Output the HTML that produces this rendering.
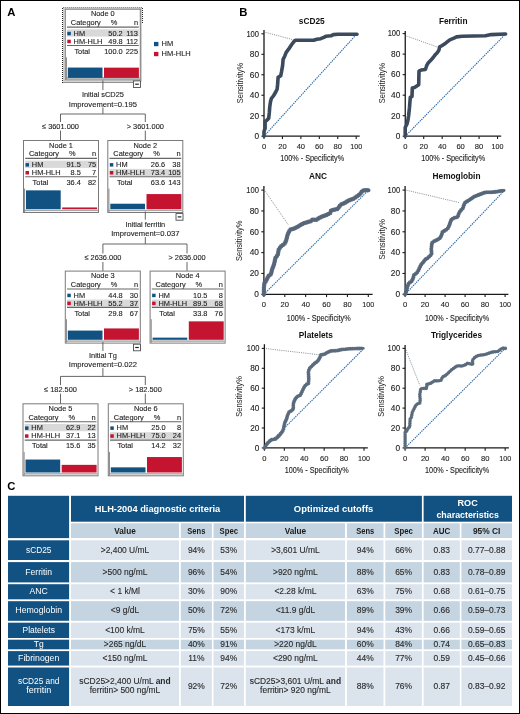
<!DOCTYPE html>
<html><head><meta charset="utf-8"><style>
html,body{margin:0;padding:0;background:#fff;}
#fig{position:absolute;left:0;top:0;width:520px;height:714px;box-sizing:border-box;border:1px solid #000;overflow:hidden;background:#fff;}
svg{position:absolute;left:-1px;top:-1px;filter:blur(0.3px);}
text{font-family:"Liberation Sans",sans-serif;}
</style></head><body><div id="fig">
<svg width="520" height="714" viewBox="0 0 520 714">
<text x="7.30" y="15.72" font-size="11.3" font-weight="bold" fill="#000">A</text>
<text x="239.20" y="15.72" font-size="11.3" font-weight="bold" fill="#000">B</text>
<text x="7.20" y="490.32" font-size="11.3" font-weight="bold" fill="#000">C</text>
<path d="M62.5,83 V7.5 H142.5 V24 M62.5,82.5 H133" fill="none" stroke="#222" stroke-width="1" stroke-dasharray="1,1"/>
<rect x="63.90" y="8.00" width="77.20" height="73.00" fill="none" stroke="#c4c4c4" stroke-width="1.4"/>
<rect x="65.30" y="9.20" width="75.00" height="70.60" fill="#fff" stroke="#7a7a7a" stroke-width="1"/>
<rect x="65.80" y="77.00" width="74.00" height="2.30" fill="#b3b9b9"/>
<line x1="66.40" y1="57.30" x2="66.40" y2="79.30" stroke="#858585" stroke-width="1.0"/>
<text transform="translate(102.80,16) scale(0.960,1)" x="0" y="0" font-size="7.71" text-anchor="middle" fill="#1e1e1e" stroke="#1e1e1e" stroke-width="0.12">Node 0</text>
<text transform="translate(70.80,25) scale(0.960,1)" x="0" y="0" font-size="7.71" fill="#1e1e1e" stroke="#1e1e1e" stroke-width="0.12">Category</text>
<text transform="translate(114.10,25) scale(0.960,1)" x="0" y="0" font-size="7.71" text-anchor="middle" fill="#1e1e1e" stroke="#1e1e1e" stroke-width="0.12">%</text>
<text transform="translate(138.00,25) scale(0.960,1)" x="0" y="0" font-size="7.71" text-anchor="end" fill="#1e1e1e" stroke="#1e1e1e" stroke-width="0.12">n</text>
<line x1="67.00" y1="27.10" x2="138.80" y2="27.10" stroke="#666" stroke-width="1.1"/>
<rect x="67.00" y="29.30" width="71.80" height="7.30" fill="#d9d9d9"/>
<rect x="67.30" y="31.80" width="3.50" height="3.50" fill="#125282"/>
<rect x="67.30" y="39.70" width="3.50" height="3.50" fill="#c41430"/>
<text transform="translate(73.60,36) scale(0.960,1)" x="0" y="0" font-size="7.71" fill="#1e1e1e" stroke="#1e1e1e" stroke-width="0.12">HM</text>
<text transform="translate(122.70,36) scale(0.960,1)" x="0" y="0" font-size="7.71" text-anchor="end" fill="#1e1e1e" stroke="#1e1e1e" stroke-width="0.12">50.2</text>
<text transform="translate(138.00,36) scale(0.960,1)" x="0" y="0" font-size="7.71" text-anchor="end" fill="#1e1e1e" stroke="#1e1e1e" stroke-width="0.12">113</text>
<text transform="translate(73.60,44) scale(0.960,1)" x="0" y="0" font-size="7.71" fill="#1e1e1e" stroke="#1e1e1e" stroke-width="0.12">HM-HLH</text>
<text transform="translate(122.70,44) scale(0.960,1)" x="0" y="0" font-size="7.71" text-anchor="end" fill="#1e1e1e" stroke="#1e1e1e" stroke-width="0.12">49.8</text>
<text transform="translate(138.00,44) scale(0.960,1)" x="0" y="0" font-size="7.71" text-anchor="end" fill="#1e1e1e" stroke="#1e1e1e" stroke-width="0.12">112</text>
<line x1="67.00" y1="45.50" x2="138.80" y2="45.50" stroke="#666" stroke-width="1.1"/>
<text transform="translate(74.40,54) scale(0.960,1)" x="0" y="0" font-size="7.71" fill="#1e1e1e" stroke="#1e1e1e" stroke-width="0.12">Total</text>
<text transform="translate(122.70,54) scale(0.960,1)" x="0" y="0" font-size="7.71" text-anchor="end" fill="#1e1e1e" stroke="#1e1e1e" stroke-width="0.12">100.0</text>
<text transform="translate(138.00,54) scale(0.960,1)" x="0" y="0" font-size="7.71" text-anchor="end" fill="#1e1e1e" stroke="#1e1e1e" stroke-width="0.12">225</text>
<rect x="67.80" y="67.56" width="34.70" height="10.34" fill="#125282"/>
<rect x="104.00" y="67.64" width="34.90" height="10.26" fill="#c41430"/>
<rect x="133.50" y="80.90" width="7" height="6.6" fill="#fff" stroke="#444" stroke-width="0.85"/>
<line x1="135.20" y1="84.20" x2="138.80" y2="84.20" stroke="#222" stroke-width="1.2"/>
<rect x="23.50" y="140.50" width="75.00" height="72.00" fill="#fff" stroke="#7a7a7a" stroke-width="1"/>
<rect x="24.00" y="209.60" width="74.00" height="1.50" fill="#c9cccc"/>
<line x1="24.00" y1="210.60" x2="98.00" y2="210.60" stroke="#9a9a9a" stroke-width="0.8"/>
<line x1="24.60" y1="188.60" x2="24.60" y2="212.00" stroke="#858585" stroke-width="1.0"/>
<text transform="translate(61.00,148) scale(0.960,1)" x="0" y="0" font-size="7.71" text-anchor="middle" fill="#1e1e1e" stroke="#1e1e1e" stroke-width="0.12">Node 1</text>
<text transform="translate(29.00,156) scale(0.960,1)" x="0" y="0" font-size="7.71" fill="#1e1e1e" stroke="#1e1e1e" stroke-width="0.12">Category</text>
<text transform="translate(72.30,156) scale(0.960,1)" x="0" y="0" font-size="7.71" text-anchor="middle" fill="#1e1e1e" stroke="#1e1e1e" stroke-width="0.12">%</text>
<text transform="translate(96.20,156) scale(0.960,1)" x="0" y="0" font-size="7.71" text-anchor="end" fill="#1e1e1e" stroke="#1e1e1e" stroke-width="0.12">n</text>
<line x1="25.20" y1="158.40" x2="97.00" y2="158.40" stroke="#666" stroke-width="1.1"/>
<rect x="25.20" y="160.60" width="71.80" height="7.30" fill="#d9d9d9"/>
<rect x="25.50" y="163.10" width="3.50" height="3.50" fill="#125282"/>
<rect x="25.50" y="171.00" width="3.50" height="3.50" fill="#c41430"/>
<text transform="translate(31.80,167) scale(0.960,1)" x="0" y="0" font-size="7.71" fill="#1e1e1e" stroke="#1e1e1e" stroke-width="0.12">HM</text>
<text transform="translate(80.90,167) scale(0.960,1)" x="0" y="0" font-size="7.71" text-anchor="end" fill="#1e1e1e" stroke="#1e1e1e" stroke-width="0.12">91.5</text>
<text transform="translate(96.20,167) scale(0.960,1)" x="0" y="0" font-size="7.71" text-anchor="end" fill="#1e1e1e" stroke="#1e1e1e" stroke-width="0.12">75</text>
<text transform="translate(31.80,175) scale(0.960,1)" x="0" y="0" font-size="7.71" fill="#1e1e1e" stroke="#1e1e1e" stroke-width="0.12">HM-HLH</text>
<text transform="translate(80.90,175) scale(0.960,1)" x="0" y="0" font-size="7.71" text-anchor="end" fill="#1e1e1e" stroke="#1e1e1e" stroke-width="0.12">8.5</text>
<text transform="translate(96.20,175) scale(0.960,1)" x="0" y="0" font-size="7.71" text-anchor="end" fill="#1e1e1e" stroke="#1e1e1e" stroke-width="0.12">7</text>
<line x1="25.20" y1="176.80" x2="97.00" y2="176.80" stroke="#666" stroke-width="1.1"/>
<text transform="translate(32.60,185) scale(0.960,1)" x="0" y="0" font-size="7.71" fill="#1e1e1e" stroke="#1e1e1e" stroke-width="0.12">Total</text>
<text transform="translate(80.90,185) scale(0.960,1)" x="0" y="0" font-size="7.71" text-anchor="end" fill="#1e1e1e" stroke="#1e1e1e" stroke-width="0.12">36.4</text>
<text transform="translate(96.20,185) scale(0.960,1)" x="0" y="0" font-size="7.71" text-anchor="end" fill="#1e1e1e" stroke="#1e1e1e" stroke-width="0.12">82</text>
<rect x="26.00" y="190.35" width="34.70" height="18.85" fill="#125282"/>
<rect x="62.20" y="207.45" width="34.90" height="1.75" fill="#c41430"/>
<rect x="107.80" y="140.50" width="75.00" height="72.00" fill="#fff" stroke="#7a7a7a" stroke-width="1"/>
<rect x="108.30" y="209.60" width="74.00" height="1.50" fill="#c9cccc"/>
<line x1="108.30" y1="210.60" x2="182.30" y2="210.60" stroke="#9a9a9a" stroke-width="0.8"/>
<line x1="108.90" y1="188.60" x2="108.90" y2="212.00" stroke="#858585" stroke-width="1.0"/>
<text transform="translate(145.30,148) scale(0.960,1)" x="0" y="0" font-size="7.71" text-anchor="middle" fill="#1e1e1e" stroke="#1e1e1e" stroke-width="0.12">Node 2</text>
<text transform="translate(113.30,156) scale(0.960,1)" x="0" y="0" font-size="7.71" fill="#1e1e1e" stroke="#1e1e1e" stroke-width="0.12">Category</text>
<text transform="translate(156.60,156) scale(0.960,1)" x="0" y="0" font-size="7.71" text-anchor="middle" fill="#1e1e1e" stroke="#1e1e1e" stroke-width="0.12">%</text>
<text transform="translate(180.50,156) scale(0.960,1)" x="0" y="0" font-size="7.71" text-anchor="end" fill="#1e1e1e" stroke="#1e1e1e" stroke-width="0.12">n</text>
<line x1="109.50" y1="158.40" x2="181.30" y2="158.40" stroke="#666" stroke-width="1.1"/>
<rect x="109.50" y="168.90" width="71.80" height="7.10" fill="#d9d9d9"/>
<rect x="109.80" y="163.10" width="3.50" height="3.50" fill="#125282"/>
<rect x="109.80" y="171.00" width="3.50" height="3.50" fill="#c41430"/>
<text transform="translate(116.10,167) scale(0.960,1)" x="0" y="0" font-size="7.71" fill="#1e1e1e" stroke="#1e1e1e" stroke-width="0.12">HM</text>
<text transform="translate(165.20,167) scale(0.960,1)" x="0" y="0" font-size="7.71" text-anchor="end" fill="#1e1e1e" stroke="#1e1e1e" stroke-width="0.12">26.6</text>
<text transform="translate(180.50,167) scale(0.960,1)" x="0" y="0" font-size="7.71" text-anchor="end" fill="#1e1e1e" stroke="#1e1e1e" stroke-width="0.12">38</text>
<text transform="translate(116.10,175) scale(0.960,1)" x="0" y="0" font-size="7.71" fill="#1e1e1e" stroke="#1e1e1e" stroke-width="0.12">HM-HLH</text>
<text transform="translate(165.20,175) scale(0.960,1)" x="0" y="0" font-size="7.71" text-anchor="end" fill="#1e1e1e" stroke="#1e1e1e" stroke-width="0.12">73.4</text>
<text transform="translate(180.50,175) scale(0.960,1)" x="0" y="0" font-size="7.71" text-anchor="end" fill="#1e1e1e" stroke="#1e1e1e" stroke-width="0.12">105</text>
<line x1="109.50" y1="176.80" x2="181.30" y2="176.80" stroke="#666" stroke-width="1.1"/>
<text transform="translate(116.90,185) scale(0.960,1)" x="0" y="0" font-size="7.71" fill="#1e1e1e" stroke="#1e1e1e" stroke-width="0.12">Total</text>
<text transform="translate(165.20,185) scale(0.960,1)" x="0" y="0" font-size="7.71" text-anchor="end" fill="#1e1e1e" stroke="#1e1e1e" stroke-width="0.12">63.6</text>
<text transform="translate(180.50,185) scale(0.960,1)" x="0" y="0" font-size="7.71" text-anchor="end" fill="#1e1e1e" stroke="#1e1e1e" stroke-width="0.12">143</text>
<rect x="110.30" y="203.72" width="34.70" height="5.48" fill="#125282"/>
<rect x="146.50" y="194.08" width="34.90" height="15.12" fill="#c41430"/>
<rect x="176.00" y="213.60" width="7" height="6.6" fill="#fff" stroke="#444" stroke-width="0.85"/>
<line x1="177.70" y1="216.90" x2="181.30" y2="216.90" stroke="#222" stroke-width="1.2"/>
<rect x="65.30" y="271.10" width="75.00" height="72.00" fill="#fff" stroke="#7a7a7a" stroke-width="1"/>
<rect x="65.80" y="340.20" width="74.00" height="1.50" fill="#c9cccc"/>
<line x1="65.80" y1="341.20" x2="139.80" y2="341.20" stroke="#9a9a9a" stroke-width="0.8"/>
<line x1="66.40" y1="319.20" x2="66.40" y2="342.60" stroke="#858585" stroke-width="1.0"/>
<text transform="translate(102.80,278) scale(0.960,1)" x="0" y="0" font-size="7.71" text-anchor="middle" fill="#1e1e1e" stroke="#1e1e1e" stroke-width="0.12">Node 3</text>
<text transform="translate(70.80,287) scale(0.960,1)" x="0" y="0" font-size="7.71" fill="#1e1e1e" stroke="#1e1e1e" stroke-width="0.12">Category</text>
<text transform="translate(114.10,287) scale(0.960,1)" x="0" y="0" font-size="7.71" text-anchor="middle" fill="#1e1e1e" stroke="#1e1e1e" stroke-width="0.12">%</text>
<text transform="translate(138.00,287) scale(0.960,1)" x="0" y="0" font-size="7.71" text-anchor="end" fill="#1e1e1e" stroke="#1e1e1e" stroke-width="0.12">n</text>
<line x1="67.00" y1="289.00" x2="138.80" y2="289.00" stroke="#666" stroke-width="1.1"/>
<rect x="67.00" y="299.50" width="71.80" height="7.10" fill="#d9d9d9"/>
<rect x="67.30" y="293.70" width="3.50" height="3.50" fill="#125282"/>
<rect x="67.30" y="301.60" width="3.50" height="3.50" fill="#c41430"/>
<text transform="translate(73.60,298) scale(0.960,1)" x="0" y="0" font-size="7.71" fill="#1e1e1e" stroke="#1e1e1e" stroke-width="0.12">HM</text>
<text transform="translate(122.70,298) scale(0.960,1)" x="0" y="0" font-size="7.71" text-anchor="end" fill="#1e1e1e" stroke="#1e1e1e" stroke-width="0.12">44.8</text>
<text transform="translate(138.00,298) scale(0.960,1)" x="0" y="0" font-size="7.71" text-anchor="end" fill="#1e1e1e" stroke="#1e1e1e" stroke-width="0.12">30</text>
<text transform="translate(73.60,306) scale(0.960,1)" x="0" y="0" font-size="7.71" fill="#1e1e1e" stroke="#1e1e1e" stroke-width="0.12">HM-HLH</text>
<text transform="translate(122.70,306) scale(0.960,1)" x="0" y="0" font-size="7.71" text-anchor="end" fill="#1e1e1e" stroke="#1e1e1e" stroke-width="0.12">55.2</text>
<text transform="translate(138.00,306) scale(0.960,1)" x="0" y="0" font-size="7.71" text-anchor="end" fill="#1e1e1e" stroke="#1e1e1e" stroke-width="0.12">37</text>
<line x1="67.00" y1="307.40" x2="138.80" y2="307.40" stroke="#666" stroke-width="1.1"/>
<text transform="translate(74.40,316) scale(0.960,1)" x="0" y="0" font-size="7.71" fill="#1e1e1e" stroke="#1e1e1e" stroke-width="0.12">Total</text>
<text transform="translate(122.70,316) scale(0.960,1)" x="0" y="0" font-size="7.71" text-anchor="end" fill="#1e1e1e" stroke="#1e1e1e" stroke-width="0.12">29.8</text>
<text transform="translate(138.00,316) scale(0.960,1)" x="0" y="0" font-size="7.71" text-anchor="end" fill="#1e1e1e" stroke="#1e1e1e" stroke-width="0.12">67</text>
<rect x="67.80" y="330.57" width="34.70" height="9.23" fill="#125282"/>
<rect x="104.00" y="328.43" width="34.90" height="11.37" fill="#c41430"/>
<rect x="133.50" y="344.20" width="7" height="6.6" fill="#fff" stroke="#444" stroke-width="0.85"/>
<line x1="135.20" y1="347.50" x2="138.80" y2="347.50" stroke="#222" stroke-width="1.2"/>
<rect x="150.10" y="271.10" width="75.00" height="72.00" fill="#fff" stroke="#7a7a7a" stroke-width="1"/>
<rect x="150.60" y="340.20" width="74.00" height="1.50" fill="#c9cccc"/>
<line x1="150.60" y1="341.20" x2="224.60" y2="341.20" stroke="#9a9a9a" stroke-width="0.8"/>
<line x1="151.20" y1="319.20" x2="151.20" y2="342.60" stroke="#858585" stroke-width="1.0"/>
<text transform="translate(187.60,278) scale(0.960,1)" x="0" y="0" font-size="7.71" text-anchor="middle" fill="#1e1e1e" stroke="#1e1e1e" stroke-width="0.12">Node 4</text>
<text transform="translate(155.60,287) scale(0.960,1)" x="0" y="0" font-size="7.71" fill="#1e1e1e" stroke="#1e1e1e" stroke-width="0.12">Category</text>
<text transform="translate(198.90,287) scale(0.960,1)" x="0" y="0" font-size="7.71" text-anchor="middle" fill="#1e1e1e" stroke="#1e1e1e" stroke-width="0.12">%</text>
<text transform="translate(222.80,287) scale(0.960,1)" x="0" y="0" font-size="7.71" text-anchor="end" fill="#1e1e1e" stroke="#1e1e1e" stroke-width="0.12">n</text>
<line x1="151.80" y1="289.00" x2="223.60" y2="289.00" stroke="#666" stroke-width="1.1"/>
<rect x="151.80" y="299.50" width="71.80" height="7.10" fill="#d9d9d9"/>
<rect x="152.10" y="293.70" width="3.50" height="3.50" fill="#125282"/>
<rect x="152.10" y="301.60" width="3.50" height="3.50" fill="#c41430"/>
<text transform="translate(158.40,298) scale(0.960,1)" x="0" y="0" font-size="7.71" fill="#1e1e1e" stroke="#1e1e1e" stroke-width="0.12">HM</text>
<text transform="translate(207.50,298) scale(0.960,1)" x="0" y="0" font-size="7.71" text-anchor="end" fill="#1e1e1e" stroke="#1e1e1e" stroke-width="0.12">10.5</text>
<text transform="translate(222.80,298) scale(0.960,1)" x="0" y="0" font-size="7.71" text-anchor="end" fill="#1e1e1e" stroke="#1e1e1e" stroke-width="0.12">8</text>
<text transform="translate(158.40,306) scale(0.960,1)" x="0" y="0" font-size="7.71" fill="#1e1e1e" stroke="#1e1e1e" stroke-width="0.12">HM-HLH</text>
<text transform="translate(207.50,306) scale(0.960,1)" x="0" y="0" font-size="7.71" text-anchor="end" fill="#1e1e1e" stroke="#1e1e1e" stroke-width="0.12">89.5</text>
<text transform="translate(222.80,306) scale(0.960,1)" x="0" y="0" font-size="7.71" text-anchor="end" fill="#1e1e1e" stroke="#1e1e1e" stroke-width="0.12">68</text>
<line x1="151.80" y1="307.40" x2="223.60" y2="307.40" stroke="#666" stroke-width="1.1"/>
<text transform="translate(159.20,316) scale(0.960,1)" x="0" y="0" font-size="7.71" fill="#1e1e1e" stroke="#1e1e1e" stroke-width="0.12">Total</text>
<text transform="translate(207.50,316) scale(0.960,1)" x="0" y="0" font-size="7.71" text-anchor="end" fill="#1e1e1e" stroke="#1e1e1e" stroke-width="0.12">33.8</text>
<text transform="translate(222.80,316) scale(0.960,1)" x="0" y="0" font-size="7.71" text-anchor="end" fill="#1e1e1e" stroke="#1e1e1e" stroke-width="0.12">76</text>
<rect x="152.60" y="337.64" width="34.70" height="2.16" fill="#125282"/>
<rect x="188.80" y="321.36" width="34.90" height="18.44" fill="#c41430"/>
<rect x="23.00" y="403.80" width="75.00" height="72.00" fill="#fff" stroke="#7a7a7a" stroke-width="1"/>
<rect x="23.50" y="472.90" width="74.00" height="1.50" fill="#c9cccc"/>
<line x1="23.50" y1="473.90" x2="97.50" y2="473.90" stroke="#9a9a9a" stroke-width="0.8"/>
<line x1="24.10" y1="451.90" x2="24.10" y2="475.30" stroke="#858585" stroke-width="1.0"/>
<text transform="translate(60.50,411) scale(0.960,1)" x="0" y="0" font-size="7.71" text-anchor="middle" fill="#1e1e1e" stroke="#1e1e1e" stroke-width="0.12">Node 5</text>
<text transform="translate(28.50,420) scale(0.960,1)" x="0" y="0" font-size="7.71" fill="#1e1e1e" stroke="#1e1e1e" stroke-width="0.12">Category</text>
<text transform="translate(71.80,420) scale(0.960,1)" x="0" y="0" font-size="7.71" text-anchor="middle" fill="#1e1e1e" stroke="#1e1e1e" stroke-width="0.12">%</text>
<text transform="translate(95.70,420) scale(0.960,1)" x="0" y="0" font-size="7.71" text-anchor="end" fill="#1e1e1e" stroke="#1e1e1e" stroke-width="0.12">n</text>
<line x1="24.70" y1="421.70" x2="96.50" y2="421.70" stroke="#666" stroke-width="1.1"/>
<rect x="24.70" y="423.90" width="71.80" height="7.30" fill="#d9d9d9"/>
<rect x="25.00" y="426.40" width="3.50" height="3.50" fill="#125282"/>
<rect x="25.00" y="434.30" width="3.50" height="3.50" fill="#c41430"/>
<text transform="translate(31.30,430) scale(0.960,1)" x="0" y="0" font-size="7.71" fill="#1e1e1e" stroke="#1e1e1e" stroke-width="0.12">HM</text>
<text transform="translate(80.40,430) scale(0.960,1)" x="0" y="0" font-size="7.71" text-anchor="end" fill="#1e1e1e" stroke="#1e1e1e" stroke-width="0.12">62.9</text>
<text transform="translate(95.70,430) scale(0.960,1)" x="0" y="0" font-size="7.71" text-anchor="end" fill="#1e1e1e" stroke="#1e1e1e" stroke-width="0.12">22</text>
<text transform="translate(31.30,438) scale(0.960,1)" x="0" y="0" font-size="7.71" fill="#1e1e1e" stroke="#1e1e1e" stroke-width="0.12">HM-HLH</text>
<text transform="translate(80.40,438) scale(0.960,1)" x="0" y="0" font-size="7.71" text-anchor="end" fill="#1e1e1e" stroke="#1e1e1e" stroke-width="0.12">37.1</text>
<text transform="translate(95.70,438) scale(0.960,1)" x="0" y="0" font-size="7.71" text-anchor="end" fill="#1e1e1e" stroke="#1e1e1e" stroke-width="0.12">13</text>
<line x1="24.70" y1="440.10" x2="96.50" y2="440.10" stroke="#666" stroke-width="1.1"/>
<text transform="translate(32.10,448) scale(0.960,1)" x="0" y="0" font-size="7.71" fill="#1e1e1e" stroke="#1e1e1e" stroke-width="0.12">Total</text>
<text transform="translate(80.40,448) scale(0.960,1)" x="0" y="0" font-size="7.71" text-anchor="end" fill="#1e1e1e" stroke="#1e1e1e" stroke-width="0.12">15.6</text>
<text transform="translate(95.70,448) scale(0.960,1)" x="0" y="0" font-size="7.71" text-anchor="end" fill="#1e1e1e" stroke="#1e1e1e" stroke-width="0.12">35</text>
<rect x="25.50" y="459.54" width="34.70" height="12.96" fill="#125282"/>
<rect x="61.70" y="464.86" width="34.90" height="7.64" fill="#c41430"/>
<rect x="108.30" y="403.80" width="75.00" height="72.00" fill="#fff" stroke="#7a7a7a" stroke-width="1"/>
<rect x="108.80" y="472.90" width="74.00" height="1.50" fill="#c9cccc"/>
<line x1="108.80" y1="473.90" x2="182.80" y2="473.90" stroke="#9a9a9a" stroke-width="0.8"/>
<line x1="109.40" y1="451.90" x2="109.40" y2="475.30" stroke="#858585" stroke-width="1.0"/>
<text transform="translate(145.80,411) scale(0.960,1)" x="0" y="0" font-size="7.71" text-anchor="middle" fill="#1e1e1e" stroke="#1e1e1e" stroke-width="0.12">Node 6</text>
<text transform="translate(113.80,420) scale(0.960,1)" x="0" y="0" font-size="7.71" fill="#1e1e1e" stroke="#1e1e1e" stroke-width="0.12">Category</text>
<text transform="translate(157.10,420) scale(0.960,1)" x="0" y="0" font-size="7.71" text-anchor="middle" fill="#1e1e1e" stroke="#1e1e1e" stroke-width="0.12">%</text>
<text transform="translate(181.00,420) scale(0.960,1)" x="0" y="0" font-size="7.71" text-anchor="end" fill="#1e1e1e" stroke="#1e1e1e" stroke-width="0.12">n</text>
<line x1="110.00" y1="421.70" x2="181.80" y2="421.70" stroke="#666" stroke-width="1.1"/>
<rect x="110.00" y="432.20" width="71.80" height="7.10" fill="#d9d9d9"/>
<rect x="110.30" y="426.40" width="3.50" height="3.50" fill="#125282"/>
<rect x="110.30" y="434.30" width="3.50" height="3.50" fill="#c41430"/>
<text transform="translate(116.60,430) scale(0.960,1)" x="0" y="0" font-size="7.71" fill="#1e1e1e" stroke="#1e1e1e" stroke-width="0.12">HM</text>
<text transform="translate(165.70,430) scale(0.960,1)" x="0" y="0" font-size="7.71" text-anchor="end" fill="#1e1e1e" stroke="#1e1e1e" stroke-width="0.12">25.0</text>
<text transform="translate(181.00,430) scale(0.960,1)" x="0" y="0" font-size="7.71" text-anchor="end" fill="#1e1e1e" stroke="#1e1e1e" stroke-width="0.12">8</text>
<text transform="translate(116.60,438) scale(0.960,1)" x="0" y="0" font-size="7.71" fill="#1e1e1e" stroke="#1e1e1e" stroke-width="0.12">HM-HLH</text>
<text transform="translate(165.70,438) scale(0.960,1)" x="0" y="0" font-size="7.71" text-anchor="end" fill="#1e1e1e" stroke="#1e1e1e" stroke-width="0.12">75.0</text>
<text transform="translate(181.00,438) scale(0.960,1)" x="0" y="0" font-size="7.71" text-anchor="end" fill="#1e1e1e" stroke="#1e1e1e" stroke-width="0.12">24</text>
<line x1="110.00" y1="440.10" x2="181.80" y2="440.10" stroke="#666" stroke-width="1.1"/>
<text transform="translate(117.40,448) scale(0.960,1)" x="0" y="0" font-size="7.71" fill="#1e1e1e" stroke="#1e1e1e" stroke-width="0.12">Total</text>
<text transform="translate(165.70,448) scale(0.960,1)" x="0" y="0" font-size="7.71" text-anchor="end" fill="#1e1e1e" stroke="#1e1e1e" stroke-width="0.12">14.2</text>
<text transform="translate(181.00,448) scale(0.960,1)" x="0" y="0" font-size="7.71" text-anchor="end" fill="#1e1e1e" stroke="#1e1e1e" stroke-width="0.12">32</text>
<rect x="110.80" y="467.35" width="34.70" height="5.15" fill="#125282"/>
<rect x="147.00" y="457.05" width="34.90" height="15.45" fill="#c41430"/>
<line x1="102.90" y1="80.50" x2="102.90" y2="90.10" stroke="#555" stroke-width="0.9"/>
<text transform="translate(102.90,97) scale(0.960,1)" x="0" y="0" font-size="7.71" text-anchor="middle" fill="#1e1e1e" stroke="#1e1e1e" stroke-width="0.12">Initial sCD25</text>
<text transform="translate(102.90,107) scale(0.960,1)" x="0" y="0" font-size="7.71" text-anchor="middle" textLength="71.04" lengthAdjust="spacingAndGlyphs" fill="#1e1e1e" stroke="#1e1e1e" stroke-width="0.12">Improvement=0.195</text>
<line x1="102.90" y1="107.50" x2="102.90" y2="114.00" stroke="#555" stroke-width="0.9"/>
<line x1="60.50" y1="114.00" x2="145.30" y2="114.00" stroke="#555" stroke-width="0.9"/>
<line x1="60.50" y1="114.00" x2="60.50" y2="122.00" stroke="#555" stroke-width="0.9"/>
<text transform="translate(60.50,129) scale(0.960,1)" x="0" y="0" font-size="7.71" text-anchor="middle" fill="#1e1e1e" stroke="#1e1e1e" stroke-width="0.12">≤ 3601.000</text>
<line x1="60.50" y1="130.60" x2="60.50" y2="140.00" stroke="#555" stroke-width="0.9"/>
<line x1="145.30" y1="114.00" x2="145.30" y2="122.00" stroke="#555" stroke-width="0.9"/>
<text transform="translate(145.30,129) scale(0.960,1)" x="0" y="0" font-size="7.71" text-anchor="middle" fill="#1e1e1e" stroke="#1e1e1e" stroke-width="0.12">&gt; 3601.000</text>
<line x1="145.30" y1="130.60" x2="145.30" y2="140.00" stroke="#555" stroke-width="0.9"/>
<line x1="145.30" y1="211.50" x2="145.30" y2="219.70" stroke="#555" stroke-width="0.9"/>
<text transform="translate(145.30,227) scale(0.960,1)" x="0" y="0" font-size="7.71" text-anchor="middle" fill="#1e1e1e" stroke="#1e1e1e" stroke-width="0.12">Initial ferritin</text>
<text transform="translate(145.30,236) scale(0.960,1)" x="0" y="0" font-size="7.71" text-anchor="middle" textLength="71.04" lengthAdjust="spacingAndGlyphs" fill="#1e1e1e" stroke="#1e1e1e" stroke-width="0.12">Improvement=0.037</text>
<line x1="145.30" y1="237.00" x2="145.30" y2="244.00" stroke="#555" stroke-width="0.9"/>
<line x1="102.90" y1="244.00" x2="187.00" y2="244.00" stroke="#555" stroke-width="0.9"/>
<line x1="102.90" y1="244.00" x2="102.90" y2="253.40" stroke="#555" stroke-width="0.9"/>
<text transform="translate(102.90,260) scale(0.960,1)" x="0" y="0" font-size="7.71" text-anchor="middle" fill="#1e1e1e" stroke="#1e1e1e" stroke-width="0.12">≤ 2636.000</text>
<line x1="102.90" y1="262.00" x2="102.90" y2="270.80" stroke="#555" stroke-width="0.9"/>
<line x1="187.00" y1="244.00" x2="187.00" y2="253.40" stroke="#555" stroke-width="0.9"/>
<text transform="translate(187.00,260) scale(0.960,1)" x="0" y="0" font-size="7.71" text-anchor="middle" fill="#1e1e1e" stroke="#1e1e1e" stroke-width="0.12">&gt; 2636.000</text>
<line x1="187.00" y1="262.00" x2="187.00" y2="270.80" stroke="#555" stroke-width="0.9"/>
<line x1="102.90" y1="342.00" x2="102.90" y2="351.00" stroke="#555" stroke-width="0.9"/>
<text transform="translate(102.90,358) scale(0.960,1)" x="0" y="0" font-size="7.71" text-anchor="middle" fill="#1e1e1e" stroke="#1e1e1e" stroke-width="0.12">Initial Tg</text>
<text transform="translate(102.90,367) scale(0.960,1)" x="0" y="0" font-size="7.71" text-anchor="middle" textLength="71.04" lengthAdjust="spacingAndGlyphs" fill="#1e1e1e" stroke="#1e1e1e" stroke-width="0.12">Improvement=0.022</text>
<line x1="102.90" y1="368.10" x2="102.90" y2="376.40" stroke="#555" stroke-width="0.9"/>
<line x1="60.50" y1="376.40" x2="145.30" y2="376.40" stroke="#555" stroke-width="0.9"/>
<line x1="60.50" y1="376.40" x2="60.50" y2="385.10" stroke="#555" stroke-width="0.9"/>
<text transform="translate(60.50,392) scale(0.960,1)" x="0" y="0" font-size="7.71" text-anchor="middle" fill="#1e1e1e" stroke="#1e1e1e" stroke-width="0.12">≤ 182.500</text>
<line x1="60.50" y1="393.70" x2="60.50" y2="403.60" stroke="#555" stroke-width="0.9"/>
<line x1="145.30" y1="376.40" x2="145.30" y2="385.10" stroke="#555" stroke-width="0.9"/>
<text transform="translate(145.30,392) scale(0.960,1)" x="0" y="0" font-size="7.71" text-anchor="middle" fill="#1e1e1e" stroke="#1e1e1e" stroke-width="0.12">&gt; 182.500</text>
<line x1="145.30" y1="393.70" x2="145.30" y2="403.60" stroke="#555" stroke-width="0.9"/>
<rect x="154.00" y="41.90" width="4.40" height="4.30" fill="#125282"/>
<rect x="154.00" y="51.90" width="4.40" height="4.30" fill="#c41430"/>
<text transform="translate(161.60,46) scale(0.960,1)" x="0" y="0" font-size="7.81" fill="#1e1e1e" stroke="#1e1e1e" stroke-width="0.12">HM</text>
<text transform="translate(161.60,56) scale(0.960,1)" x="0" y="0" font-size="7.81" fill="#1e1e1e" stroke="#1e1e1e" stroke-width="0.12">HM-HLH</text>
<line x1="264.00" y1="136.20" x2="357.00" y2="33.80" stroke="#2868aa" stroke-width="1.1" stroke-dasharray="1.4,0.9"/>
<line x1="265.50" y1="32.40" x2="293.50" y2="39.80" stroke="#6c7884" stroke-width="0.8" stroke-dasharray="1.1,1.1"/>
<line x1="264.00" y1="30.10" x2="264.00" y2="136.80" stroke="#1a1a1a" stroke-width="1.3"/>
<line x1="263.40" y1="136.20" x2="359.70" y2="136.20" stroke="#1a1a1a" stroke-width="1.3"/>
<line x1="261.40" y1="136.20" x2="264.00" y2="136.20" stroke="#1a1a1a" stroke-width="1.1"/>
<text x="259.00" y="139.03" font-size="8.3" text-anchor="end" fill="#1e1e1e" stroke="#1e1e1e" stroke-width="0.12">0</text>
<line x1="264.00" y1="136.20" x2="264.00" y2="139.00" stroke="#1a1a1a" stroke-width="1.1"/>
<text x="264.00" y="148.97" font-size="7.6" text-anchor="middle" fill="#1e1e1e" stroke="#1e1e1e" stroke-width="0.12">0</text>
<line x1="261.40" y1="115.72" x2="264.00" y2="115.72" stroke="#1a1a1a" stroke-width="1.1"/>
<text x="259.00" y="118.55" font-size="8.3" text-anchor="end" fill="#1e1e1e" stroke="#1e1e1e" stroke-width="0.12">20</text>
<line x1="282.44" y1="136.20" x2="282.44" y2="139.00" stroke="#1a1a1a" stroke-width="1.1"/>
<text x="282.44" y="148.97" font-size="7.6" text-anchor="middle" fill="#1e1e1e" stroke="#1e1e1e" stroke-width="0.12">20</text>
<line x1="261.40" y1="95.24" x2="264.00" y2="95.24" stroke="#1a1a1a" stroke-width="1.1"/>
<text x="259.00" y="98.07" font-size="8.3" text-anchor="end" fill="#1e1e1e" stroke="#1e1e1e" stroke-width="0.12">40</text>
<line x1="300.88" y1="136.20" x2="300.88" y2="139.00" stroke="#1a1a1a" stroke-width="1.1"/>
<text x="300.88" y="148.97" font-size="7.6" text-anchor="middle" fill="#1e1e1e" stroke="#1e1e1e" stroke-width="0.12">40</text>
<line x1="261.40" y1="74.76" x2="264.00" y2="74.76" stroke="#1a1a1a" stroke-width="1.1"/>
<text x="259.00" y="77.59" font-size="8.3" text-anchor="end" fill="#1e1e1e" stroke="#1e1e1e" stroke-width="0.12">60</text>
<line x1="319.32" y1="136.20" x2="319.32" y2="139.00" stroke="#1a1a1a" stroke-width="1.1"/>
<text x="319.32" y="148.97" font-size="7.6" text-anchor="middle" fill="#1e1e1e" stroke="#1e1e1e" stroke-width="0.12">60</text>
<line x1="261.40" y1="54.28" x2="264.00" y2="54.28" stroke="#1a1a1a" stroke-width="1.1"/>
<text x="259.00" y="57.11" font-size="8.3" text-anchor="end" fill="#1e1e1e" stroke="#1e1e1e" stroke-width="0.12">80</text>
<line x1="337.76" y1="136.20" x2="337.76" y2="139.00" stroke="#1a1a1a" stroke-width="1.1"/>
<text x="337.76" y="148.97" font-size="7.6" text-anchor="middle" fill="#1e1e1e" stroke="#1e1e1e" stroke-width="0.12">80</text>
<line x1="261.40" y1="33.80" x2="264.00" y2="33.80" stroke="#1a1a1a" stroke-width="1.1"/>
<text x="259.00" y="36.63" font-size="8.3" text-anchor="end" textLength="12.6" lengthAdjust="spacingAndGlyphs" fill="#1e1e1e" stroke="#1e1e1e" stroke-width="0.12">100</text>
<line x1="356.20" y1="136.20" x2="356.20" y2="139.00" stroke="#1a1a1a" stroke-width="1.1"/>
<text x="356.20" y="148.97" font-size="7.6" text-anchor="middle" textLength="11.9" lengthAdjust="spacingAndGlyphs" fill="#1e1e1e" stroke="#1e1e1e" stroke-width="0.12">100</text>
<text x="311.75" y="23.63" font-size="8.3" text-anchor="middle" font-weight="bold" fill="#111">sCD25</text>
<text x="312.20" y="160.93" font-size="8.6" text-anchor="middle" textLength="64" lengthAdjust="spacingAndGlyphs" fill="#1e1e1e" stroke="#1e1e1e" stroke-width="0.12">100% - Specificity%</text>
<g transform="translate(242.80,83.00) rotate(-90)"><text x="0" y="0" font-size="8.6" text-anchor="middle" textLength="40.5" lengthAdjust="spacingAndGlyphs" fill="#1e1e1e">Sensitivity%</text></g>
<polyline points="264.0,136.2 264.0,131.5 265.1,128.4 265.1,121.3 266.6,120.5 268.7,118.2 269.3,112.7 269.8,106.4 270.5,101.7 271.3,98.6 273.7,95.5 276.0,91.5 277.1,89.2 277.6,84.5 278.1,77.4 280.7,75.8 281.5,71.9 282.6,65.6 283.1,59.4 284.7,56.2 286.2,52.3 288.6,49.2 291.7,44.5 294.1,41.3 295.6,40.2 313.7,40.2 316.8,39.3 320.7,38.7 323.9,37.4 326.2,36.2 331.0,35.8 333.3,34.6 338.0,34.3 357.0,34.3" fill="none" stroke="#3b4a5d" stroke-width="3.6" stroke-linejoin="round" stroke-linecap="round"/>
<line x1="405.25" y1="136.20" x2="505.60" y2="34.00" stroke="#2868aa" stroke-width="1.1" stroke-dasharray="1.4,0.9"/>
<line x1="406.50" y1="36.00" x2="439.00" y2="47.60" stroke="#6c7884" stroke-width="0.8" stroke-dasharray="1.1,1.1"/>
<line x1="405.25" y1="30.90" x2="405.25" y2="136.80" stroke="#1a1a1a" stroke-width="1.3"/>
<line x1="404.65" y1="136.20" x2="501.20" y2="136.20" stroke="#1a1a1a" stroke-width="1.3"/>
<line x1="402.65" y1="136.20" x2="405.25" y2="136.20" stroke="#1a1a1a" stroke-width="1.1"/>
<text x="400.25" y="139.03" font-size="8.3" text-anchor="end" fill="#1e1e1e" stroke="#1e1e1e" stroke-width="0.12">0</text>
<line x1="405.25" y1="136.20" x2="405.25" y2="139.00" stroke="#1a1a1a" stroke-width="1.1"/>
<text x="405.25" y="148.97" font-size="7.6" text-anchor="middle" fill="#1e1e1e" stroke="#1e1e1e" stroke-width="0.12">0</text>
<line x1="402.65" y1="115.68" x2="405.25" y2="115.68" stroke="#1a1a1a" stroke-width="1.1"/>
<text x="400.25" y="118.51" font-size="8.3" text-anchor="end" fill="#1e1e1e" stroke="#1e1e1e" stroke-width="0.12">20</text>
<line x1="423.71" y1="136.20" x2="423.71" y2="139.00" stroke="#1a1a1a" stroke-width="1.1"/>
<text x="423.71" y="148.97" font-size="7.6" text-anchor="middle" fill="#1e1e1e" stroke="#1e1e1e" stroke-width="0.12">20</text>
<line x1="402.65" y1="95.16" x2="405.25" y2="95.16" stroke="#1a1a1a" stroke-width="1.1"/>
<text x="400.25" y="97.99" font-size="8.3" text-anchor="end" fill="#1e1e1e" stroke="#1e1e1e" stroke-width="0.12">40</text>
<line x1="442.17" y1="136.20" x2="442.17" y2="139.00" stroke="#1a1a1a" stroke-width="1.1"/>
<text x="442.17" y="148.97" font-size="7.6" text-anchor="middle" fill="#1e1e1e" stroke="#1e1e1e" stroke-width="0.12">40</text>
<line x1="402.65" y1="74.64" x2="405.25" y2="74.64" stroke="#1a1a1a" stroke-width="1.1"/>
<text x="400.25" y="77.47" font-size="8.3" text-anchor="end" fill="#1e1e1e" stroke="#1e1e1e" stroke-width="0.12">60</text>
<line x1="460.63" y1="136.20" x2="460.63" y2="139.00" stroke="#1a1a1a" stroke-width="1.1"/>
<text x="460.63" y="148.97" font-size="7.6" text-anchor="middle" fill="#1e1e1e" stroke="#1e1e1e" stroke-width="0.12">60</text>
<line x1="402.65" y1="54.12" x2="405.25" y2="54.12" stroke="#1a1a1a" stroke-width="1.1"/>
<text x="400.25" y="56.95" font-size="8.3" text-anchor="end" fill="#1e1e1e" stroke="#1e1e1e" stroke-width="0.12">80</text>
<line x1="479.09" y1="136.20" x2="479.09" y2="139.00" stroke="#1a1a1a" stroke-width="1.1"/>
<text x="479.09" y="148.97" font-size="7.6" text-anchor="middle" fill="#1e1e1e" stroke="#1e1e1e" stroke-width="0.12">80</text>
<line x1="402.65" y1="33.60" x2="405.25" y2="33.60" stroke="#1a1a1a" stroke-width="1.1"/>
<text x="400.25" y="36.43" font-size="8.3" text-anchor="end" textLength="12.6" lengthAdjust="spacingAndGlyphs" fill="#1e1e1e" stroke="#1e1e1e" stroke-width="0.12">100</text>
<line x1="497.55" y1="136.20" x2="497.55" y2="139.00" stroke="#1a1a1a" stroke-width="1.1"/>
<text x="497.55" y="148.97" font-size="7.6" text-anchor="middle" textLength="11.9" lengthAdjust="spacingAndGlyphs" fill="#1e1e1e" stroke="#1e1e1e" stroke-width="0.12">100</text>
<text x="453.20" y="23.63" font-size="8.3" text-anchor="middle" font-weight="bold" fill="#111">Ferritin</text>
<text x="453.20" y="161.13" font-size="8.6" text-anchor="middle" textLength="64" lengthAdjust="spacingAndGlyphs" fill="#1e1e1e" stroke="#1e1e1e" stroke-width="0.12">100% - Specificity%</text>
<g transform="translate(384.50,83.00) rotate(-90)"><text x="0" y="0" font-size="8.6" text-anchor="middle" textLength="40.5" lengthAdjust="spacingAndGlyphs" fill="#1e1e1e">Sensitivity%</text></g>
<polyline points="405.2,136.3 405.2,127.5 406.9,124.2 407.8,120.8 408.6,115.8 409.5,107.4 410.3,97.3 412.0,96.4 412.3,88.0 414.5,87.5 418.7,84.7 419.0,71.2 421.2,70.0 425.4,69.5 426.8,65.3 427.9,63.3 430.5,60.6 433.0,57.8 435.5,54.4 437.2,52.7 438.9,50.2 439.7,46.8 442.2,45.5 445.6,43.2 449.8,39.8 454.0,38.1 456.5,36.9 462.3,36.3 485.4,35.8 491.1,34.6 505.6,34.0" fill="none" stroke="#3b4a5d" stroke-width="3.6" stroke-linejoin="round" stroke-linecap="round"/>
<line x1="263.90" y1="294.30" x2="368.40" y2="190.30" stroke="#2868aa" stroke-width="1.1" stroke-dasharray="1.4,0.9"/>
<line x1="265.00" y1="190.90" x2="288.70" y2="225.40" stroke="#6c7884" stroke-width="0.8" stroke-dasharray="1.1,1.1"/>
<line x1="263.90" y1="185.90" x2="263.90" y2="294.90" stroke="#1a1a1a" stroke-width="1.3"/>
<line x1="263.30" y1="294.30" x2="372.60" y2="294.30" stroke="#1a1a1a" stroke-width="1.3"/>
<line x1="261.30" y1="294.30" x2="263.90" y2="294.30" stroke="#1a1a1a" stroke-width="1.1"/>
<text x="258.90" y="297.13" font-size="8.3" text-anchor="end" fill="#1e1e1e" stroke="#1e1e1e" stroke-width="0.12">0</text>
<line x1="263.90" y1="294.30" x2="263.90" y2="297.10" stroke="#1a1a1a" stroke-width="1.1"/>
<text x="263.90" y="307.07" font-size="7.6" text-anchor="middle" fill="#1e1e1e" stroke="#1e1e1e" stroke-width="0.12">0</text>
<line x1="261.30" y1="273.46" x2="263.90" y2="273.46" stroke="#1a1a1a" stroke-width="1.1"/>
<text x="258.90" y="276.29" font-size="8.3" text-anchor="end" fill="#1e1e1e" stroke="#1e1e1e" stroke-width="0.12">20</text>
<line x1="284.78" y1="294.30" x2="284.78" y2="297.10" stroke="#1a1a1a" stroke-width="1.1"/>
<text x="284.78" y="307.07" font-size="7.6" text-anchor="middle" fill="#1e1e1e" stroke="#1e1e1e" stroke-width="0.12">20</text>
<line x1="261.30" y1="252.62" x2="263.90" y2="252.62" stroke="#1a1a1a" stroke-width="1.1"/>
<text x="258.90" y="255.45" font-size="8.3" text-anchor="end" fill="#1e1e1e" stroke="#1e1e1e" stroke-width="0.12">40</text>
<line x1="305.66" y1="294.30" x2="305.66" y2="297.10" stroke="#1a1a1a" stroke-width="1.1"/>
<text x="305.66" y="307.07" font-size="7.6" text-anchor="middle" fill="#1e1e1e" stroke="#1e1e1e" stroke-width="0.12">40</text>
<line x1="261.30" y1="231.78" x2="263.90" y2="231.78" stroke="#1a1a1a" stroke-width="1.1"/>
<text x="258.90" y="234.61" font-size="8.3" text-anchor="end" fill="#1e1e1e" stroke="#1e1e1e" stroke-width="0.12">60</text>
<line x1="326.54" y1="294.30" x2="326.54" y2="297.10" stroke="#1a1a1a" stroke-width="1.1"/>
<text x="326.54" y="307.07" font-size="7.6" text-anchor="middle" fill="#1e1e1e" stroke="#1e1e1e" stroke-width="0.12">60</text>
<line x1="261.30" y1="210.94" x2="263.90" y2="210.94" stroke="#1a1a1a" stroke-width="1.1"/>
<text x="258.90" y="213.77" font-size="8.3" text-anchor="end" fill="#1e1e1e" stroke="#1e1e1e" stroke-width="0.12">80</text>
<line x1="347.42" y1="294.30" x2="347.42" y2="297.10" stroke="#1a1a1a" stroke-width="1.1"/>
<text x="347.42" y="307.07" font-size="7.6" text-anchor="middle" fill="#1e1e1e" stroke="#1e1e1e" stroke-width="0.12">80</text>
<line x1="261.30" y1="190.10" x2="263.90" y2="190.10" stroke="#1a1a1a" stroke-width="1.1"/>
<text x="258.90" y="192.93" font-size="8.3" text-anchor="end" textLength="12.6" lengthAdjust="spacingAndGlyphs" fill="#1e1e1e" stroke="#1e1e1e" stroke-width="0.12">100</text>
<line x1="368.30" y1="294.30" x2="368.30" y2="297.10" stroke="#1a1a1a" stroke-width="1.1"/>
<text x="368.30" y="307.07" font-size="7.6" text-anchor="middle" textLength="11.9" lengthAdjust="spacingAndGlyphs" fill="#1e1e1e" stroke="#1e1e1e" stroke-width="0.12">100</text>
<text x="317.90" y="179.23" font-size="8.3" text-anchor="middle" font-weight="bold" fill="#111">ANC</text>
<text x="318.70" y="320.93" font-size="8.6" text-anchor="middle" textLength="64" lengthAdjust="spacingAndGlyphs" fill="#1e1e1e" stroke="#1e1e1e" stroke-width="0.12">100% - Specificity%</text>
<g transform="translate(242.40,240.80) rotate(-90)"><text x="0" y="0" font-size="8.6" text-anchor="middle" textLength="40.5" lengthAdjust="spacingAndGlyphs" fill="#1e1e1e">Sensitivity%</text></g>
<polyline points="263.9,294.3 263.9,287.6 264.4,283.4 266.1,280.8 266.9,279.2 268.6,275.8 271.1,274.1 271.9,269.9 273.6,265.7 274.5,262.4 275.3,258.2 277.8,254.8 278.7,249.7 280.3,247.2 282.0,245.5 284.5,243.9 286.2,240.5 287.4,235.5 288.7,232.1 290.4,229.6 293.8,228.7 297.1,227.1 300.0,225.4 303.4,223.4 307.6,222.0 310.9,221.2 312.6,219.5 316.0,220.0 319.3,217.8 323.5,216.1 327.7,214.5 330.3,212.8 331.1,210.6 333.6,209.9 337.8,208.9 339.5,206.1 341.2,204.4 344.5,203.0 347.9,201.0 350.4,199.8 353.8,198.5 356.3,196.8 358.8,195.1 360.5,193.4 362.2,190.9 364.7,190.1 368.9,190.4" fill="none" stroke="#56667a" stroke-width="3.2" stroke-linejoin="round" stroke-linecap="round"/>
<polyline points="263.9,294.3 263.9,287.6 264.4,283.4 266.1,280.8 266.9,279.2 268.6,275.8 271.1,274.1 271.9,269.9 273.6,265.7 274.5,262.4 275.3,258.2 277.8,254.8 278.7,249.7 280.3,247.2 282.0,245.5 284.5,243.9 286.2,240.5 287.4,235.5 288.7,232.1 290.4,229.6 293.8,228.7 297.1,227.1 300.0,225.4 303.4,223.4 307.6,222.0 310.9,221.2 312.6,219.5 316.0,220.0 319.3,217.8 323.5,216.1 327.7,214.5 330.3,212.8 331.1,210.6 333.6,209.9 337.8,208.9 339.5,206.1 341.2,204.4 344.5,203.0 347.9,201.0 350.4,199.8 353.8,198.5 356.3,196.8 358.8,195.1 360.5,193.4 362.2,190.9 364.7,190.1 368.9,190.4" fill="none" stroke="#56667a" stroke-width="4.5" stroke-linejoin="round" stroke-linecap="round" stroke-dasharray="0,2.2" opacity="0.9"/>
<line x1="405.10" y1="294.30" x2="504.60" y2="190.30" stroke="#2868aa" stroke-width="1.1" stroke-dasharray="1.4,0.9"/>
<line x1="406.50" y1="190.20" x2="459.80" y2="202.70" stroke="#6c7884" stroke-width="0.8" stroke-dasharray="1.1,1.1"/>
<line x1="405.10" y1="185.90" x2="405.10" y2="294.90" stroke="#1a1a1a" stroke-width="1.3"/>
<line x1="404.50" y1="294.30" x2="508.40" y2="294.30" stroke="#1a1a1a" stroke-width="1.3"/>
<line x1="402.50" y1="294.30" x2="405.10" y2="294.30" stroke="#1a1a1a" stroke-width="1.1"/>
<text x="400.10" y="297.13" font-size="8.3" text-anchor="end" fill="#1e1e1e" stroke="#1e1e1e" stroke-width="0.12">0</text>
<line x1="405.10" y1="294.30" x2="405.10" y2="297.10" stroke="#1a1a1a" stroke-width="1.1"/>
<text x="405.10" y="307.07" font-size="7.6" text-anchor="middle" fill="#1e1e1e" stroke="#1e1e1e" stroke-width="0.12">0</text>
<line x1="402.50" y1="273.46" x2="405.10" y2="273.46" stroke="#1a1a1a" stroke-width="1.1"/>
<text x="400.10" y="276.29" font-size="8.3" text-anchor="end" fill="#1e1e1e" stroke="#1e1e1e" stroke-width="0.12">20</text>
<line x1="425.10" y1="294.30" x2="425.10" y2="297.10" stroke="#1a1a1a" stroke-width="1.1"/>
<text x="425.10" y="307.07" font-size="7.6" text-anchor="middle" fill="#1e1e1e" stroke="#1e1e1e" stroke-width="0.12">20</text>
<line x1="402.50" y1="252.62" x2="405.10" y2="252.62" stroke="#1a1a1a" stroke-width="1.1"/>
<text x="400.10" y="255.45" font-size="8.3" text-anchor="end" fill="#1e1e1e" stroke="#1e1e1e" stroke-width="0.12">40</text>
<line x1="445.10" y1="294.30" x2="445.10" y2="297.10" stroke="#1a1a1a" stroke-width="1.1"/>
<text x="445.10" y="307.07" font-size="7.6" text-anchor="middle" fill="#1e1e1e" stroke="#1e1e1e" stroke-width="0.12">40</text>
<line x1="402.50" y1="231.78" x2="405.10" y2="231.78" stroke="#1a1a1a" stroke-width="1.1"/>
<text x="400.10" y="234.61" font-size="8.3" text-anchor="end" fill="#1e1e1e" stroke="#1e1e1e" stroke-width="0.12">60</text>
<line x1="465.10" y1="294.30" x2="465.10" y2="297.10" stroke="#1a1a1a" stroke-width="1.1"/>
<text x="465.10" y="307.07" font-size="7.6" text-anchor="middle" fill="#1e1e1e" stroke="#1e1e1e" stroke-width="0.12">60</text>
<line x1="402.50" y1="210.94" x2="405.10" y2="210.94" stroke="#1a1a1a" stroke-width="1.1"/>
<text x="400.10" y="213.77" font-size="8.3" text-anchor="end" fill="#1e1e1e" stroke="#1e1e1e" stroke-width="0.12">80</text>
<line x1="485.10" y1="294.30" x2="485.10" y2="297.10" stroke="#1a1a1a" stroke-width="1.1"/>
<text x="485.10" y="307.07" font-size="7.6" text-anchor="middle" fill="#1e1e1e" stroke="#1e1e1e" stroke-width="0.12">80</text>
<line x1="402.50" y1="190.10" x2="405.10" y2="190.10" stroke="#1a1a1a" stroke-width="1.1"/>
<text x="400.10" y="192.93" font-size="8.3" text-anchor="end" textLength="12.6" lengthAdjust="spacingAndGlyphs" fill="#1e1e1e" stroke="#1e1e1e" stroke-width="0.12">100</text>
<line x1="505.10" y1="294.30" x2="505.10" y2="297.10" stroke="#1a1a1a" stroke-width="1.1"/>
<text x="505.10" y="307.07" font-size="7.6" text-anchor="middle" textLength="11.9" lengthAdjust="spacingAndGlyphs" fill="#1e1e1e" stroke="#1e1e1e" stroke-width="0.12">100</text>
<text x="456.50" y="179.23" font-size="8.3" text-anchor="middle" font-weight="bold" fill="#111">Hemoglobin</text>
<text x="457.10" y="320.93" font-size="8.6" text-anchor="middle" textLength="64" lengthAdjust="spacingAndGlyphs" fill="#1e1e1e" stroke="#1e1e1e" stroke-width="0.12">100% - Specificity%</text>
<g transform="translate(384.50,239.30) rotate(-90)"><text x="0" y="0" font-size="8.6" text-anchor="middle" textLength="40.5" lengthAdjust="spacingAndGlyphs" fill="#1e1e1e">Sensitivity%</text></g>
<polyline points="405.1,294.3 406.4,290.9 407.7,285.9 408.9,282.9 411.4,281.7 413.1,278.3 414.0,275.0 416.5,273.3 418.2,270.8 419.8,267.4 421.5,264.0 423.2,262.4 424.9,259.8 427.4,258.2 429.9,256.0 431.6,253.9 431.3,248.9 431.9,243.0 434.1,241.3 437.5,239.7 440.0,238.0 441.4,235.5 442.5,232.1 445.1,230.4 447.6,228.7 449.3,225.4 450.4,222.0 451.4,219.5 454.3,217.8 457.7,217.0 458.8,213.6 460.2,211.1 462.7,208.6 463.9,205.2 464.9,202.7 467.7,201.0 471.1,198.8 474.5,196.5 478.0,195.1 481.0,194.0 485.4,192.3 491.1,192.3 496.9,191.7 504.1,190.3" fill="none" stroke="#56667a" stroke-width="2.8" stroke-linejoin="round" stroke-linecap="round"/>
<polyline points="405.1,294.3 406.4,290.9 407.7,285.9 408.9,282.9 411.4,281.7 413.1,278.3 414.0,275.0 416.5,273.3 418.2,270.8 419.8,267.4 421.5,264.0 423.2,262.4 424.9,259.8 427.4,258.2 429.9,256.0 431.6,253.9 431.3,248.9 431.9,243.0 434.1,241.3 437.5,239.7 440.0,238.0 441.4,235.5 442.5,232.1 445.1,230.4 447.6,228.7 449.3,225.4 450.4,222.0 451.4,219.5 454.3,217.8 457.7,217.0 458.8,213.6 460.2,211.1 462.7,208.6 463.9,205.2 464.9,202.7 467.7,201.0 471.1,198.8 474.5,196.5 478.0,195.1 481.0,194.0 485.4,192.3 491.1,192.3 496.9,191.7 504.1,190.3" fill="none" stroke="#56667a" stroke-width="4.1" stroke-linejoin="round" stroke-linecap="round" stroke-dasharray="0,2.2" opacity="0.9"/>
<line x1="264.40" y1="447.90" x2="364.00" y2="348.40" stroke="#2868aa" stroke-width="1.1" stroke-dasharray="1.4,0.9"/>
<line x1="266.00" y1="348.60" x2="319.50" y2="354.80" stroke="#6c7884" stroke-width="0.8" stroke-dasharray="1.1,1.1"/>
<line x1="264.40" y1="344.20" x2="264.40" y2="448.50" stroke="#1a1a1a" stroke-width="1.3"/>
<line x1="263.80" y1="447.90" x2="367.80" y2="447.90" stroke="#1a1a1a" stroke-width="1.3"/>
<line x1="261.80" y1="447.90" x2="264.40" y2="447.90" stroke="#1a1a1a" stroke-width="1.1"/>
<text x="259.40" y="450.73" font-size="8.3" text-anchor="end" fill="#1e1e1e" stroke="#1e1e1e" stroke-width="0.12">0</text>
<line x1="264.40" y1="447.90" x2="264.40" y2="450.70" stroke="#1a1a1a" stroke-width="1.1"/>
<text x="264.40" y="460.97" font-size="7.6" text-anchor="middle" fill="#1e1e1e" stroke="#1e1e1e" stroke-width="0.12">0</text>
<line x1="261.80" y1="428.00" x2="264.40" y2="428.00" stroke="#1a1a1a" stroke-width="1.1"/>
<text x="259.40" y="430.83" font-size="8.3" text-anchor="end" fill="#1e1e1e" stroke="#1e1e1e" stroke-width="0.12">20</text>
<line x1="284.32" y1="447.90" x2="284.32" y2="450.70" stroke="#1a1a1a" stroke-width="1.1"/>
<text x="284.32" y="460.97" font-size="7.6" text-anchor="middle" fill="#1e1e1e" stroke="#1e1e1e" stroke-width="0.12">20</text>
<line x1="261.80" y1="408.10" x2="264.40" y2="408.10" stroke="#1a1a1a" stroke-width="1.1"/>
<text x="259.40" y="410.93" font-size="8.3" text-anchor="end" fill="#1e1e1e" stroke="#1e1e1e" stroke-width="0.12">40</text>
<line x1="304.24" y1="447.90" x2="304.24" y2="450.70" stroke="#1a1a1a" stroke-width="1.1"/>
<text x="304.24" y="460.97" font-size="7.6" text-anchor="middle" fill="#1e1e1e" stroke="#1e1e1e" stroke-width="0.12">40</text>
<line x1="261.80" y1="388.20" x2="264.40" y2="388.20" stroke="#1a1a1a" stroke-width="1.1"/>
<text x="259.40" y="391.03" font-size="8.3" text-anchor="end" fill="#1e1e1e" stroke="#1e1e1e" stroke-width="0.12">60</text>
<line x1="324.16" y1="447.90" x2="324.16" y2="450.70" stroke="#1a1a1a" stroke-width="1.1"/>
<text x="324.16" y="460.97" font-size="7.6" text-anchor="middle" fill="#1e1e1e" stroke="#1e1e1e" stroke-width="0.12">60</text>
<line x1="261.80" y1="368.30" x2="264.40" y2="368.30" stroke="#1a1a1a" stroke-width="1.1"/>
<text x="259.40" y="371.13" font-size="8.3" text-anchor="end" fill="#1e1e1e" stroke="#1e1e1e" stroke-width="0.12">80</text>
<line x1="344.08" y1="447.90" x2="344.08" y2="450.70" stroke="#1a1a1a" stroke-width="1.1"/>
<text x="344.08" y="460.97" font-size="7.6" text-anchor="middle" fill="#1e1e1e" stroke="#1e1e1e" stroke-width="0.12">80</text>
<line x1="261.80" y1="348.40" x2="264.40" y2="348.40" stroke="#1a1a1a" stroke-width="1.1"/>
<text x="259.40" y="351.23" font-size="8.3" text-anchor="end" textLength="12.6" lengthAdjust="spacingAndGlyphs" fill="#1e1e1e" stroke="#1e1e1e" stroke-width="0.12">100</text>
<line x1="364.00" y1="447.90" x2="364.00" y2="450.70" stroke="#1a1a1a" stroke-width="1.1"/>
<text x="364.00" y="460.97" font-size="7.6" text-anchor="middle" textLength="11.9" lengthAdjust="spacingAndGlyphs" fill="#1e1e1e" stroke="#1e1e1e" stroke-width="0.12">100</text>
<text x="315.90" y="337.63" font-size="8.3" text-anchor="middle" font-weight="bold" fill="#111">Platelets</text>
<text x="316.70" y="473.13" font-size="8.6" text-anchor="middle" textLength="64" lengthAdjust="spacingAndGlyphs" fill="#1e1e1e" stroke="#1e1e1e" stroke-width="0.12">100% - Specificity%</text>
<g transform="translate(242.40,396.40) rotate(-90)"><text x="0" y="0" font-size="8.6" text-anchor="middle" textLength="40.5" lengthAdjust="spacingAndGlyphs" fill="#1e1e1e">Sensitivity%</text></g>
<polyline points="264.4,447.9 265.6,445.9 267.2,443.4 269.8,440.9 272.3,439.2 274.8,439.5 277.3,437.5 279.8,435.0 282.4,431.6 283.5,429.1 284.1,425.8 284.9,422.4 286.6,419.0 287.4,415.7 289.1,412.0 291.6,410.6 293.3,409.0 293.3,403.9 294.1,401.4 295.3,398.9 297.5,396.3 300.0,395.5 301.4,393.0 302.5,390.5 304.2,387.1 305.9,384.6 308.4,383.7 308.8,378.7 308.4,372.0 309.3,368.6 311.8,366.1 314.3,363.6 317.7,361.1 319.8,357.7 321.0,354.8 324.4,354.3 326.9,352.6 330.3,351.0 338.0,350.5 340.4,349.7 349.0,348.8 363.4,348.3" fill="none" stroke="#5a6a7d" stroke-width="2.6" stroke-linejoin="round" stroke-linecap="round"/>
<polyline points="264.4,447.9 265.6,445.9 267.2,443.4 269.8,440.9 272.3,439.2 274.8,439.5 277.3,437.5 279.8,435.0 282.4,431.6 283.5,429.1 284.1,425.8 284.9,422.4 286.6,419.0 287.4,415.7 289.1,412.0 291.6,410.6 293.3,409.0 293.3,403.9 294.1,401.4 295.3,398.9 297.5,396.3 300.0,395.5 301.4,393.0 302.5,390.5 304.2,387.1 305.9,384.6 308.4,383.7 308.8,378.7 308.4,372.0 309.3,368.6 311.8,366.1 314.3,363.6 317.7,361.1 319.8,357.7 321.0,354.8 324.4,354.3 326.9,352.6 330.3,351.0 338.0,350.5 340.4,349.7 349.0,348.8 363.4,348.3" fill="none" stroke="#5a6a7d" stroke-width="3.9" stroke-linejoin="round" stroke-linecap="round" stroke-dasharray="0,2.2" opacity="0.9"/>
<line x1="405.10" y1="447.90" x2="505.20" y2="348.40" stroke="#2868aa" stroke-width="1.1" stroke-dasharray="1.4,0.9"/>
<line x1="406.00" y1="350.00" x2="419.80" y2="385.40" stroke="#6c7884" stroke-width="0.8" stroke-dasharray="1.1,1.1"/>
<line x1="405.10" y1="345.10" x2="405.10" y2="448.50" stroke="#1a1a1a" stroke-width="1.3"/>
<line x1="404.50" y1="447.90" x2="508.90" y2="447.90" stroke="#1a1a1a" stroke-width="1.3"/>
<line x1="402.50" y1="447.90" x2="405.10" y2="447.90" stroke="#1a1a1a" stroke-width="1.1"/>
<text x="400.10" y="450.73" font-size="8.3" text-anchor="end" fill="#1e1e1e" stroke="#1e1e1e" stroke-width="0.12">0</text>
<line x1="405.10" y1="447.90" x2="405.10" y2="450.70" stroke="#1a1a1a" stroke-width="1.1"/>
<text x="405.10" y="460.97" font-size="7.6" text-anchor="middle" fill="#1e1e1e" stroke="#1e1e1e" stroke-width="0.12">0</text>
<line x1="402.50" y1="428.00" x2="405.10" y2="428.00" stroke="#1a1a1a" stroke-width="1.1"/>
<text x="400.10" y="430.83" font-size="8.3" text-anchor="end" fill="#1e1e1e" stroke="#1e1e1e" stroke-width="0.12">20</text>
<line x1="425.12" y1="447.90" x2="425.12" y2="450.70" stroke="#1a1a1a" stroke-width="1.1"/>
<text x="425.12" y="460.97" font-size="7.6" text-anchor="middle" fill="#1e1e1e" stroke="#1e1e1e" stroke-width="0.12">20</text>
<line x1="402.50" y1="408.10" x2="405.10" y2="408.10" stroke="#1a1a1a" stroke-width="1.1"/>
<text x="400.10" y="410.93" font-size="8.3" text-anchor="end" fill="#1e1e1e" stroke="#1e1e1e" stroke-width="0.12">40</text>
<line x1="445.14" y1="447.90" x2="445.14" y2="450.70" stroke="#1a1a1a" stroke-width="1.1"/>
<text x="445.14" y="460.97" font-size="7.6" text-anchor="middle" fill="#1e1e1e" stroke="#1e1e1e" stroke-width="0.12">40</text>
<line x1="402.50" y1="388.20" x2="405.10" y2="388.20" stroke="#1a1a1a" stroke-width="1.1"/>
<text x="400.10" y="391.03" font-size="8.3" text-anchor="end" fill="#1e1e1e" stroke="#1e1e1e" stroke-width="0.12">60</text>
<line x1="465.16" y1="447.90" x2="465.16" y2="450.70" stroke="#1a1a1a" stroke-width="1.1"/>
<text x="465.16" y="460.97" font-size="7.6" text-anchor="middle" fill="#1e1e1e" stroke="#1e1e1e" stroke-width="0.12">60</text>
<line x1="402.50" y1="368.30" x2="405.10" y2="368.30" stroke="#1a1a1a" stroke-width="1.1"/>
<text x="400.10" y="371.13" font-size="8.3" text-anchor="end" fill="#1e1e1e" stroke="#1e1e1e" stroke-width="0.12">80</text>
<line x1="485.18" y1="447.90" x2="485.18" y2="450.70" stroke="#1a1a1a" stroke-width="1.1"/>
<text x="485.18" y="460.97" font-size="7.6" text-anchor="middle" fill="#1e1e1e" stroke="#1e1e1e" stroke-width="0.12">80</text>
<line x1="402.50" y1="348.40" x2="405.10" y2="348.40" stroke="#1a1a1a" stroke-width="1.1"/>
<text x="400.10" y="351.23" font-size="8.3" text-anchor="end" textLength="12.6" lengthAdjust="spacingAndGlyphs" fill="#1e1e1e" stroke="#1e1e1e" stroke-width="0.12">100</text>
<line x1="505.20" y1="447.90" x2="505.20" y2="450.70" stroke="#1a1a1a" stroke-width="1.1"/>
<text x="505.20" y="460.97" font-size="7.6" text-anchor="middle" textLength="11.9" lengthAdjust="spacingAndGlyphs" fill="#1e1e1e" stroke="#1e1e1e" stroke-width="0.12">100</text>
<text x="456.50" y="337.63" font-size="8.3" text-anchor="middle" font-weight="bold" fill="#111">Triglycerides</text>
<text x="457.10" y="473.13" font-size="8.6" text-anchor="middle" textLength="64" lengthAdjust="spacingAndGlyphs" fill="#1e1e1e" stroke="#1e1e1e" stroke-width="0.12">100% - Specificity%</text>
<g transform="translate(384.40,396.40) rotate(-90)"><text x="0" y="0" font-size="8.6" text-anchor="middle" textLength="40.5" lengthAdjust="spacingAndGlyphs" fill="#1e1e1e">Sensitivity%</text></g>
<polyline points="405.1,447.9 405.1,432.5 406.4,431.6 408.1,428.3 409.8,426.6 410.1,419.0 411.4,417.4 412.3,412.3 414.0,409.0 415.6,405.6 417.3,403.9 419.8,403.1 420.2,399.7 419.8,394.7 420.7,388.8 423.2,388.4 426.6,388.4 426.9,384.1 429.9,383.7 432.5,382.1 434.1,380.9 438.3,380.9 440.9,380.4 442.5,377.0 445.9,375.3 448.4,372.8 450.9,370.3 454.3,367.8 456.8,366.1 459.3,365.8 461.8,366.1 465.2,364.9 467.7,363.2 470.3,363.9 472.8,364.4 472.4,360.2 474.5,357.7 477.0,356.0 479.5,355.2 483.7,354.8 487.1,353.8 490.4,352.6 493.8,351.8 498.0,351.5 500.5,349.3 503.0,348.1 505.5,348.4" fill="none" stroke="#5a6a7d" stroke-width="2.3" stroke-linejoin="round" stroke-linecap="round"/>
<polyline points="405.1,447.9 405.1,432.5 406.4,431.6 408.1,428.3 409.8,426.6 410.1,419.0 411.4,417.4 412.3,412.3 414.0,409.0 415.6,405.6 417.3,403.9 419.8,403.1 420.2,399.7 419.8,394.7 420.7,388.8 423.2,388.4 426.6,388.4 426.9,384.1 429.9,383.7 432.5,382.1 434.1,380.9 438.3,380.9 440.9,380.4 442.5,377.0 445.9,375.3 448.4,372.8 450.9,370.3 454.3,367.8 456.8,366.1 459.3,365.8 461.8,366.1 465.2,364.9 467.7,363.2 470.3,363.9 472.8,364.4 472.4,360.2 474.5,357.7 477.0,356.0 479.5,355.2 483.7,354.8 487.1,353.8 490.4,352.6 493.8,351.8 498.0,351.5 500.5,349.3 503.0,348.1 505.5,348.4" fill="none" stroke="#5a6a7d" stroke-width="3.5999999999999996" stroke-linejoin="round" stroke-linecap="round" stroke-dasharray="0,2.2" opacity="0.9"/>
<rect x="8.00" y="495.80" width="61.10" height="42.30" fill="#125282"/>
<rect x="71.00" y="495.80" width="173.00" height="25.90" fill="#125282"/>
<rect x="245.80" y="495.80" width="176.10" height="25.90" fill="#125282"/>
<rect x="423.60" y="495.80" width="88.40" height="25.90" fill="#125282"/>
<rect x="71.00" y="523.30" width="108.00" height="14.70" fill="#c4d4e1"/>
<rect x="180.80" y="523.30" width="31.10" height="14.70" fill="#c4d4e1"/>
<rect x="213.50" y="523.30" width="30.50" height="14.70" fill="#c4d4e1"/>
<rect x="245.80" y="523.30" width="99.20" height="14.70" fill="#c4d4e1"/>
<rect x="346.90" y="523.30" width="36.60" height="14.70" fill="#c4d4e1"/>
<rect x="385.30" y="523.30" width="36.60" height="14.70" fill="#c4d4e1"/>
<rect x="423.60" y="523.30" width="36.20" height="14.70" fill="#c4d4e1"/>
<rect x="461.40" y="523.30" width="50.60" height="14.70" fill="#c4d4e1"/>
<rect x="8.00" y="540.30" width="61.10" height="19.70" fill="#125282"/>
<rect x="71.00" y="540.30" width="108.00" height="19.70" fill="#dbe4ed"/>
<rect x="180.80" y="540.30" width="31.10" height="19.70" fill="#dbe4ed"/>
<rect x="213.50" y="540.30" width="30.50" height="19.70" fill="#dbe4ed"/>
<rect x="245.80" y="540.30" width="99.20" height="19.70" fill="#dbe4ed"/>
<rect x="346.90" y="540.30" width="36.60" height="19.70" fill="#dbe4ed"/>
<rect x="385.30" y="540.30" width="36.60" height="19.70" fill="#dbe4ed"/>
<rect x="423.60" y="540.30" width="36.20" height="19.70" fill="#dbe4ed"/>
<rect x="461.40" y="540.30" width="50.60" height="19.70" fill="#dbe4ed"/>
<text x="38.70" y="552.58" font-size="8.3" text-anchor="middle" textLength="25.3" lengthAdjust="spacingAndGlyphs" fill="#fff">sCD25</text>
<text x="125.00" y="552.63" font-size="8.45" text-anchor="middle" fill="#2a2a2a" stroke="#2a2a2a" stroke-width="0.12">&gt;2,400 U/mL</text>
<text x="196.35" y="552.63" font-size="8.45" text-anchor="middle" fill="#2a2a2a" stroke="#2a2a2a" stroke-width="0.12">94%</text>
<text x="228.75" y="552.63" font-size="8.45" text-anchor="middle" fill="#2a2a2a" stroke="#2a2a2a" stroke-width="0.12">53%</text>
<text x="295.40" y="552.63" font-size="8.45" text-anchor="middle" fill="#2a2a2a" stroke="#2a2a2a" stroke-width="0.12">&gt;3,601 U/mL</text>
<text x="365.20" y="552.63" font-size="8.45" text-anchor="middle" fill="#2a2a2a" stroke="#2a2a2a" stroke-width="0.12">94%</text>
<text x="403.60" y="552.63" font-size="8.45" text-anchor="middle" fill="#2a2a2a" stroke="#2a2a2a" stroke-width="0.12">66%</text>
<text x="441.70" y="552.63" font-size="8.45" text-anchor="middle" fill="#2a2a2a" stroke="#2a2a2a" stroke-width="0.12">0.83</text>
<text x="486.70" y="552.63" font-size="8.45" text-anchor="middle" fill="#2a2a2a" stroke="#2a2a2a" stroke-width="0.12">0.77–0.88</text>
<rect x="8.00" y="562.10" width="61.10" height="20.30" fill="#125282"/>
<rect x="71.00" y="562.10" width="108.00" height="20.30" fill="#c4d4e1"/>
<rect x="180.80" y="562.10" width="31.10" height="20.30" fill="#c4d4e1"/>
<rect x="213.50" y="562.10" width="30.50" height="20.30" fill="#c4d4e1"/>
<rect x="245.80" y="562.10" width="99.20" height="20.30" fill="#c4d4e1"/>
<rect x="346.90" y="562.10" width="36.60" height="20.30" fill="#c4d4e1"/>
<rect x="385.30" y="562.10" width="36.60" height="20.30" fill="#c4d4e1"/>
<rect x="423.60" y="562.10" width="36.20" height="20.30" fill="#c4d4e1"/>
<rect x="461.40" y="562.10" width="50.60" height="20.30" fill="#c4d4e1"/>
<text x="38.70" y="574.68" font-size="8.3" text-anchor="middle" textLength="26.7" lengthAdjust="spacingAndGlyphs" fill="#fff">Ferritin</text>
<text x="125.00" y="574.73" font-size="8.45" text-anchor="middle" fill="#2a2a2a" stroke="#2a2a2a" stroke-width="0.12">&gt;500 ng/mL</text>
<text x="196.35" y="574.73" font-size="8.45" text-anchor="middle" fill="#2a2a2a" stroke="#2a2a2a" stroke-width="0.12">96%</text>
<text x="228.75" y="574.73" font-size="8.45" text-anchor="middle" fill="#2a2a2a" stroke="#2a2a2a" stroke-width="0.12">54%</text>
<text x="295.40" y="574.73" font-size="8.45" text-anchor="middle" fill="#2a2a2a" stroke="#2a2a2a" stroke-width="0.12">&gt;920 ng/mL</text>
<text x="365.20" y="574.73" font-size="8.45" text-anchor="middle" fill="#2a2a2a" stroke="#2a2a2a" stroke-width="0.12">88%</text>
<text x="403.60" y="574.73" font-size="8.45" text-anchor="middle" fill="#2a2a2a" stroke="#2a2a2a" stroke-width="0.12">65%</text>
<text x="441.70" y="574.73" font-size="8.45" text-anchor="middle" fill="#2a2a2a" stroke="#2a2a2a" stroke-width="0.12">0.83</text>
<text x="486.70" y="574.73" font-size="8.45" text-anchor="middle" fill="#2a2a2a" stroke="#2a2a2a" stroke-width="0.12">0.78–0.89</text>
<rect x="8.00" y="584.20" width="61.10" height="15.10" fill="#125282"/>
<rect x="71.00" y="584.20" width="108.00" height="15.10" fill="#dbe4ed"/>
<rect x="180.80" y="584.20" width="31.10" height="15.10" fill="#dbe4ed"/>
<rect x="213.50" y="584.20" width="30.50" height="15.10" fill="#dbe4ed"/>
<rect x="245.80" y="584.20" width="99.20" height="15.10" fill="#dbe4ed"/>
<rect x="346.90" y="584.20" width="36.60" height="15.10" fill="#dbe4ed"/>
<rect x="385.30" y="584.20" width="36.60" height="15.10" fill="#dbe4ed"/>
<rect x="423.60" y="584.20" width="36.20" height="15.10" fill="#dbe4ed"/>
<rect x="461.40" y="584.20" width="50.60" height="15.10" fill="#dbe4ed"/>
<text x="38.70" y="594.18" font-size="8.3" text-anchor="middle" textLength="18.3" lengthAdjust="spacingAndGlyphs" fill="#fff">ANC</text>
<text x="125.00" y="594.23" font-size="8.45" text-anchor="middle" fill="#2a2a2a" stroke="#2a2a2a" stroke-width="0.12">&lt; 1 k/Ml</text>
<text x="196.35" y="594.23" font-size="8.45" text-anchor="middle" fill="#2a2a2a" stroke="#2a2a2a" stroke-width="0.12">30%</text>
<text x="228.75" y="594.23" font-size="8.45" text-anchor="middle" fill="#2a2a2a" stroke="#2a2a2a" stroke-width="0.12">90%</text>
<text x="295.40" y="594.23" font-size="8.45" text-anchor="middle" fill="#2a2a2a" stroke="#2a2a2a" stroke-width="0.12">&lt;2.28 k/mL</text>
<text x="365.20" y="594.23" font-size="8.45" text-anchor="middle" fill="#2a2a2a" stroke="#2a2a2a" stroke-width="0.12">63%</text>
<text x="403.60" y="594.23" font-size="8.45" text-anchor="middle" fill="#2a2a2a" stroke="#2a2a2a" stroke-width="0.12">75%</text>
<text x="441.70" y="594.23" font-size="8.45" text-anchor="middle" fill="#2a2a2a" stroke="#2a2a2a" stroke-width="0.12">0.68</text>
<text x="486.70" y="594.23" font-size="8.45" text-anchor="middle" fill="#2a2a2a" stroke="#2a2a2a" stroke-width="0.12">0.61–0.75</text>
<rect x="8.00" y="601.20" width="61.10" height="19.60" fill="#125282"/>
<rect x="71.00" y="601.20" width="108.00" height="19.60" fill="#c4d4e1"/>
<rect x="180.80" y="601.20" width="31.10" height="19.60" fill="#c4d4e1"/>
<rect x="213.50" y="601.20" width="30.50" height="19.60" fill="#c4d4e1"/>
<rect x="245.80" y="601.20" width="99.20" height="19.60" fill="#c4d4e1"/>
<rect x="346.90" y="601.20" width="36.60" height="19.60" fill="#c4d4e1"/>
<rect x="385.30" y="601.20" width="36.60" height="19.60" fill="#c4d4e1"/>
<rect x="423.60" y="601.20" width="36.20" height="19.60" fill="#c4d4e1"/>
<rect x="461.40" y="601.20" width="50.60" height="19.60" fill="#c4d4e1"/>
<text x="38.70" y="613.43" font-size="8.3" text-anchor="middle" textLength="46.8" lengthAdjust="spacingAndGlyphs" fill="#fff">Hemoglobin</text>
<text x="125.00" y="613.48" font-size="8.45" text-anchor="middle" fill="#2a2a2a" stroke="#2a2a2a" stroke-width="0.12">&lt;9 g/dL</text>
<text x="196.35" y="613.48" font-size="8.45" text-anchor="middle" fill="#2a2a2a" stroke="#2a2a2a" stroke-width="0.12">50%</text>
<text x="228.75" y="613.48" font-size="8.45" text-anchor="middle" fill="#2a2a2a" stroke="#2a2a2a" stroke-width="0.12">72%</text>
<text x="295.40" y="613.48" font-size="8.45" text-anchor="middle" fill="#2a2a2a" stroke="#2a2a2a" stroke-width="0.12">&lt;11.9 g/dL</text>
<text x="365.20" y="613.48" font-size="8.45" text-anchor="middle" fill="#2a2a2a" stroke="#2a2a2a" stroke-width="0.12">89%</text>
<text x="403.60" y="613.48" font-size="8.45" text-anchor="middle" fill="#2a2a2a" stroke="#2a2a2a" stroke-width="0.12">39%</text>
<text x="441.70" y="613.48" font-size="8.45" text-anchor="middle" fill="#2a2a2a" stroke="#2a2a2a" stroke-width="0.12">0.66</text>
<text x="486.70" y="613.48" font-size="8.45" text-anchor="middle" fill="#2a2a2a" stroke="#2a2a2a" stroke-width="0.12">0.59–0.73</text>
<rect x="8.00" y="622.70" width="61.10" height="15.30" fill="#125282"/>
<rect x="71.00" y="622.70" width="108.00" height="15.30" fill="#dbe4ed"/>
<rect x="180.80" y="622.70" width="31.10" height="15.30" fill="#dbe4ed"/>
<rect x="213.50" y="622.70" width="30.50" height="15.30" fill="#dbe4ed"/>
<rect x="245.80" y="622.70" width="99.20" height="15.30" fill="#dbe4ed"/>
<rect x="346.90" y="622.70" width="36.60" height="15.30" fill="#dbe4ed"/>
<rect x="385.30" y="622.70" width="36.60" height="15.30" fill="#dbe4ed"/>
<rect x="423.60" y="622.70" width="36.20" height="15.30" fill="#dbe4ed"/>
<rect x="461.40" y="622.70" width="50.60" height="15.30" fill="#dbe4ed"/>
<text x="38.70" y="632.78" font-size="8.3" text-anchor="middle" textLength="32.4" lengthAdjust="spacingAndGlyphs" fill="#fff">Platelets</text>
<text x="125.00" y="632.83" font-size="8.45" text-anchor="middle" fill="#2a2a2a" stroke="#2a2a2a" stroke-width="0.12">&lt;100 k/mL</text>
<text x="196.35" y="632.83" font-size="8.45" text-anchor="middle" fill="#2a2a2a" stroke="#2a2a2a" stroke-width="0.12">75%</text>
<text x="228.75" y="632.83" font-size="8.45" text-anchor="middle" fill="#2a2a2a" stroke="#2a2a2a" stroke-width="0.12">55%</text>
<text x="295.40" y="632.83" font-size="8.45" text-anchor="middle" fill="#2a2a2a" stroke="#2a2a2a" stroke-width="0.12">&lt;173 k/mL</text>
<text x="365.20" y="632.83" font-size="8.45" text-anchor="middle" fill="#2a2a2a" stroke="#2a2a2a" stroke-width="0.12">94%</text>
<text x="403.60" y="632.83" font-size="8.45" text-anchor="middle" fill="#2a2a2a" stroke="#2a2a2a" stroke-width="0.12">43%</text>
<text x="441.70" y="632.83" font-size="8.45" text-anchor="middle" fill="#2a2a2a" stroke="#2a2a2a" stroke-width="0.12">0.66</text>
<text x="486.70" y="632.83" font-size="8.45" text-anchor="middle" fill="#2a2a2a" stroke="#2a2a2a" stroke-width="0.12">0.59–0.65</text>
<rect x="8.00" y="639.70" width="61.10" height="9.60" fill="#125282"/>
<rect x="71.00" y="639.70" width="108.00" height="9.60" fill="#c4d4e1"/>
<rect x="180.80" y="639.70" width="31.10" height="9.60" fill="#c4d4e1"/>
<rect x="213.50" y="639.70" width="30.50" height="9.60" fill="#c4d4e1"/>
<rect x="245.80" y="639.70" width="99.20" height="9.60" fill="#c4d4e1"/>
<rect x="346.90" y="639.70" width="36.60" height="9.60" fill="#c4d4e1"/>
<rect x="385.30" y="639.70" width="36.60" height="9.60" fill="#c4d4e1"/>
<rect x="423.60" y="639.70" width="36.20" height="9.60" fill="#c4d4e1"/>
<rect x="461.40" y="639.70" width="50.60" height="9.60" fill="#c4d4e1"/>
<text x="38.70" y="646.93" font-size="8.3" text-anchor="middle" textLength="9.9" lengthAdjust="spacingAndGlyphs" fill="#fff">Tg</text>
<text x="125.00" y="646.98" font-size="8.45" text-anchor="middle" fill="#2a2a2a" stroke="#2a2a2a" stroke-width="0.12">&gt;265 ng/dL</text>
<text x="196.35" y="646.98" font-size="8.45" text-anchor="middle" fill="#2a2a2a" stroke="#2a2a2a" stroke-width="0.12">40%</text>
<text x="228.75" y="646.98" font-size="8.45" text-anchor="middle" fill="#2a2a2a" stroke="#2a2a2a" stroke-width="0.12">91%</text>
<text x="295.40" y="646.98" font-size="8.45" text-anchor="middle" fill="#2a2a2a" stroke="#2a2a2a" stroke-width="0.12">&gt;220 ng/dL</text>
<text x="365.20" y="646.98" font-size="8.45" text-anchor="middle" fill="#2a2a2a" stroke="#2a2a2a" stroke-width="0.12">60%</text>
<text x="403.60" y="646.98" font-size="8.45" text-anchor="middle" fill="#2a2a2a" stroke="#2a2a2a" stroke-width="0.12">84%</text>
<text x="441.70" y="646.98" font-size="8.45" text-anchor="middle" fill="#2a2a2a" stroke="#2a2a2a" stroke-width="0.12">0.74</text>
<text x="486.70" y="646.98" font-size="8.45" text-anchor="middle" fill="#2a2a2a" stroke="#2a2a2a" stroke-width="0.12">0.65–0.83</text>
<rect x="8.00" y="651.10" width="61.10" height="14.50" fill="#125282"/>
<rect x="71.00" y="651.10" width="108.00" height="14.50" fill="#dbe4ed"/>
<rect x="180.80" y="651.10" width="31.10" height="14.50" fill="#dbe4ed"/>
<rect x="213.50" y="651.10" width="30.50" height="14.50" fill="#dbe4ed"/>
<rect x="245.80" y="651.10" width="99.20" height="14.50" fill="#dbe4ed"/>
<rect x="346.90" y="651.10" width="36.60" height="14.50" fill="#dbe4ed"/>
<rect x="385.30" y="651.10" width="36.60" height="14.50" fill="#dbe4ed"/>
<rect x="423.60" y="651.10" width="36.20" height="14.50" fill="#dbe4ed"/>
<rect x="461.40" y="651.10" width="50.60" height="14.50" fill="#dbe4ed"/>
<text x="38.70" y="660.78" font-size="8.3" text-anchor="middle" textLength="41.2" lengthAdjust="spacingAndGlyphs" fill="#fff">Fibrinogen</text>
<text x="125.00" y="660.83" font-size="8.45" text-anchor="middle" fill="#2a2a2a" stroke="#2a2a2a" stroke-width="0.12">&lt;150 ng/mL</text>
<text x="196.35" y="660.83" font-size="8.45" text-anchor="middle" fill="#2a2a2a" stroke="#2a2a2a" stroke-width="0.12">11%</text>
<text x="228.75" y="660.83" font-size="8.45" text-anchor="middle" fill="#2a2a2a" stroke="#2a2a2a" stroke-width="0.12">94%</text>
<text x="295.40" y="660.83" font-size="8.45" text-anchor="middle" fill="#2a2a2a" stroke="#2a2a2a" stroke-width="0.12">&lt;290 ng/mL</text>
<text x="365.20" y="660.83" font-size="8.45" text-anchor="middle" fill="#2a2a2a" stroke="#2a2a2a" stroke-width="0.12">44%</text>
<text x="403.60" y="660.83" font-size="8.45" text-anchor="middle" fill="#2a2a2a" stroke="#2a2a2a" stroke-width="0.12">77%</text>
<text x="441.70" y="660.83" font-size="8.45" text-anchor="middle" fill="#2a2a2a" stroke="#2a2a2a" stroke-width="0.12">0.59</text>
<text x="486.70" y="660.83" font-size="8.45" text-anchor="middle" fill="#2a2a2a" stroke="#2a2a2a" stroke-width="0.12">0.45–0.66</text>
<rect x="8.00" y="667.50" width="61.10" height="38.50" fill="#125282"/>
<rect x="71.00" y="667.50" width="108.00" height="38.50" fill="#dbe4ed"/>
<rect x="180.80" y="667.50" width="31.10" height="38.50" fill="#dbe4ed"/>
<rect x="213.50" y="667.50" width="30.50" height="38.50" fill="#dbe4ed"/>
<rect x="245.80" y="667.50" width="99.20" height="38.50" fill="#dbe4ed"/>
<rect x="346.90" y="667.50" width="36.60" height="38.50" fill="#dbe4ed"/>
<rect x="385.30" y="667.50" width="36.60" height="38.50" fill="#dbe4ed"/>
<rect x="423.60" y="667.50" width="36.20" height="38.50" fill="#dbe4ed"/>
<rect x="461.40" y="667.50" width="50.60" height="38.50" fill="#dbe4ed"/>
<text x="38.70" y="683.53" font-size="8.3" text-anchor="middle" textLength="41.4" lengthAdjust="spacingAndGlyphs" fill="#fff">sCD25 and</text>
<text x="38.70" y="693.43" font-size="8.3" text-anchor="middle" textLength="25.1" lengthAdjust="spacingAndGlyphs" fill="#fff">ferritin</text>
<text x="125.00" y="683.58" font-size="8.45" text-anchor="middle" fill="#2a2a2a" stroke="#2a2a2a" stroke-width="0.12">sCD25&gt;2,400 U/mL <tspan font-weight="bold" stroke-width="0">and</tspan></text>
<text x="125.00" y="693.48" font-size="8.45" text-anchor="middle" fill="#2a2a2a" stroke="#2a2a2a" stroke-width="0.12">ferritin&gt; 500 ng/mL</text>
<text x="196.35" y="689.08" font-size="8.45" text-anchor="middle" fill="#2a2a2a" stroke="#2a2a2a" stroke-width="0.12">92%</text>
<text x="228.75" y="689.08" font-size="8.45" text-anchor="middle" fill="#2a2a2a" stroke="#2a2a2a" stroke-width="0.12">72%</text>
<text x="295.40" y="683.58" font-size="8.45" text-anchor="middle" fill="#2a2a2a" stroke="#2a2a2a" stroke-width="0.12">sCD25&gt;3,601 U/mL <tspan font-weight="bold" stroke-width="0">and</tspan></text>
<text x="295.40" y="693.48" font-size="8.45" text-anchor="middle" fill="#2a2a2a" stroke="#2a2a2a" stroke-width="0.12">ferritin&gt; 920 ng/mL</text>
<text x="365.20" y="689.08" font-size="8.45" text-anchor="middle" fill="#2a2a2a" stroke="#2a2a2a" stroke-width="0.12">88%</text>
<text x="403.60" y="689.08" font-size="8.45" text-anchor="middle" fill="#2a2a2a" stroke="#2a2a2a" stroke-width="0.12">76%</text>
<text x="441.70" y="689.08" font-size="8.45" text-anchor="middle" fill="#2a2a2a" stroke="#2a2a2a" stroke-width="0.12">0.87</text>
<text x="486.70" y="689.08" font-size="8.45" text-anchor="middle" fill="#2a2a2a" stroke="#2a2a2a" stroke-width="0.12">0.83–0.92</text>
<text x="157.50" y="512.05" font-size="9.2" text-anchor="middle" font-weight="bold" textLength="125.5" lengthAdjust="spacingAndGlyphs" fill="#fff">HLH-2004 diagnostic criteria</text>
<text x="333.60" y="512.09" font-size="9.3" text-anchor="middle" font-weight="bold" textLength="79.5" lengthAdjust="spacingAndGlyphs" fill="#fff">Optimized cutoffs</text>
<text x="467.60" y="506.35" font-size="9.2" text-anchor="middle" font-weight="bold" textLength="20.2" lengthAdjust="spacingAndGlyphs" fill="#fff">ROC</text>
<text x="467.70" y="517.95" font-size="9.2" text-anchor="middle" font-weight="bold" textLength="62.5" lengthAdjust="spacingAndGlyphs" fill="#fff">characteristics</text>
<text x="125.00" y="533.96" font-size="8.4" text-anchor="middle" font-weight="bold" textLength="21.4" lengthAdjust="spacingAndGlyphs" fill="#1a1a1a">Value</text>
<text x="196.35" y="533.96" font-size="8.4" text-anchor="middle" font-weight="bold" textLength="18" lengthAdjust="spacingAndGlyphs" fill="#1a1a1a">Sens</text>
<text x="228.75" y="533.96" font-size="8.4" text-anchor="middle" font-weight="bold" textLength="18.4" lengthAdjust="spacingAndGlyphs" fill="#1a1a1a">Spec</text>
<text x="295.40" y="533.96" font-size="8.4" text-anchor="middle" font-weight="bold" textLength="21.4" lengthAdjust="spacingAndGlyphs" fill="#1a1a1a">Value</text>
<text x="365.20" y="533.96" font-size="8.4" text-anchor="middle" font-weight="bold" textLength="18" lengthAdjust="spacingAndGlyphs" fill="#1a1a1a">Sens</text>
<text x="403.60" y="533.96" font-size="8.4" text-anchor="middle" font-weight="bold" textLength="18.6" lengthAdjust="spacingAndGlyphs" fill="#1a1a1a">Spec</text>
<text x="441.70" y="533.96" font-size="8.4" text-anchor="middle" font-weight="bold" textLength="17.3" lengthAdjust="spacingAndGlyphs" fill="#1a1a1a">AUC</text>
<text x="486.70" y="533.96" font-size="8.4" text-anchor="middle" font-weight="bold" textLength="27.5" lengthAdjust="spacingAndGlyphs" fill="#1a1a1a">95% CI</text>
</svg></div></body></html>
